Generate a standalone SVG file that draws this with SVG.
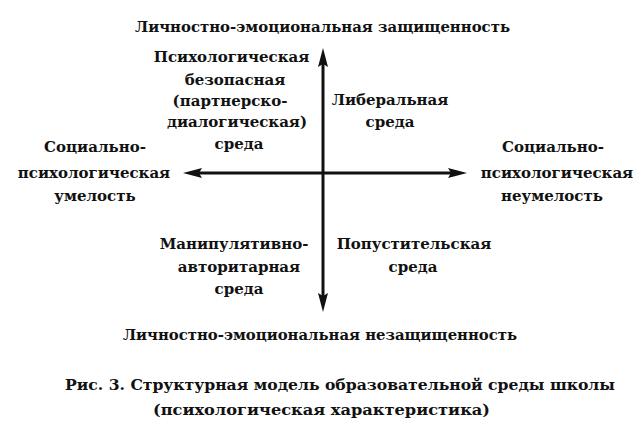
<svg xmlns="http://www.w3.org/2000/svg" width="643" height="437" viewBox="0 0 643 437">
<style>
text{font-family:"DejaVu Serif","Liberation Serif",serif;font-weight:bold;font-size:15px;fill:#111;text-anchor:middle}
.ax{stroke:#111;stroke-width:3;fill:none}
</style>
<defs>
<marker id="ah" viewBox="0 0 19 11" markerWidth="19" markerHeight="11" refX="7" refY="5.5" orient="auto-start-reverse" markerUnits="userSpaceOnUse">
<path d="M0,0.5 L19,5.5 L0,10.5 L3,5.5 z" fill="#111"/>
</marker>
</defs>
<rect width="643" height="437" fill="#fff"/>
<g id="connectors">
<line class="ax" x1="323" y1="60" x2="323" y2="300" marker-start="url(#ah)" marker-end="url(#ah)"/>
<line class="ax" x1="195" y1="173" x2="455" y2="173" marker-start="url(#ah)" marker-end="url(#ah)"/>
</g>
<g id="top"><text x="322.5" y="32" textLength="375" lengthAdjust="spacingAndGlyphs">Личностно-эмоциональная защищенность</text></g>
<g id="q-top-left">
<text x="231.5" y="62">Психологическая</text>
<text x="235" y="85">безопасная</text>
<text x="230" y="106">(партнерско-</text>
<text x="237" y="127">диалогическая)</text>
<text x="239" y="149">среда</text>
</g>
<g id="q-top-right">
<text x="390" y="105">Либеральная</text>
<text x="390" y="127">среда</text>
</g>
<g id="left">
<text x="95" y="152">Социально-</text>
<text x="94" y="178">психологическая</text>
<text x="95" y="201">умелость</text>
</g>
<g id="right">
<text x="553" y="152">Социально-</text>
<text x="557" y="178">психологическая</text>
<text x="552" y="201">неумелость</text>
</g>
<g id="q-bottom-left">
<text x="234" y="249">Манипулятивно-</text>
<text x="239" y="272">авторитарная</text>
<text x="239" y="294">среда</text>
</g>
<g id="q-bottom-right">
<text x="414" y="249">Попустительская</text>
<text x="413" y="272">среда</text>
</g>
<g id="bottom"><text x="320" y="340" textLength="394" lengthAdjust="spacingAndGlyphs">Личностно-эмоциональная незащищенность</text></g>
<g id="caption">
<text x="340" y="390" textLength="550" lengthAdjust="spacingAndGlyphs">Рис. 3. Структурная модель образовательной среды школы</text>
<text x="321.5" y="415" textLength="337" lengthAdjust="spacingAndGlyphs">(психологическая характеристика)</text>
</g>
</svg>
